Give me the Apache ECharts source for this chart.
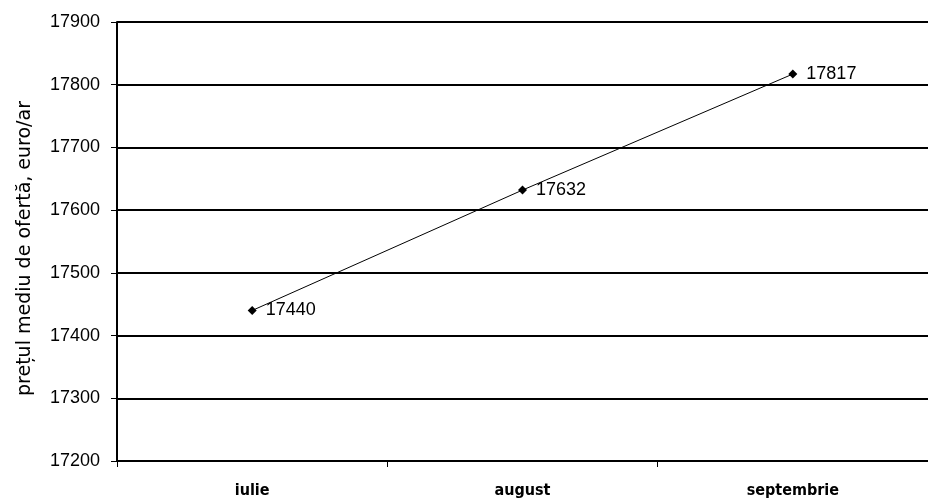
<!DOCTYPE html>
<html><head><meta charset="utf-8">
<script src="https://cdn.jsdelivr.net/npm/echarts@6/dist/echarts.min.js"></script>
<style>html,body{margin:0;padding:0;background:#fff}#c{width:928px;height:502px}</style>
</head><body><div id="c"></div>
<script>
const categories = ['iulie', 'august', 'septembrie'];
const values = [17440, 17632, 17817];
const yAxisName = 'prețul mediu de ofertă, euro/ar';

const chart = echarts.init(document.getElementById('c'));
chart.setOption({
  animation: false,
  backgroundColor: '#fff',
  grid: { left: 117, right: 0, top: 22, bottom: 41, containLabel: false },
  xAxis: {
    type: 'category', data: categories, boundaryGap: true,
    axisLine: { lineStyle: { color: '#000', width: 2 } },
    axisTick: { show: true, length: 6, lineStyle: { color: '#000', width: 1 } },
    axisLabel: { color: '#000', fontFamily: 'DejaVu Sans Condensed', fontWeight: 'bold', fontSize: 16, margin: 22 },
    splitLine: { show: false }
  },
  yAxis: {
    type: 'value', min: 17200, max: 17900, interval: 100,
    name: yAxisName, nameLocation: 'middle', nameGap: 82, nameRotate: 90,
    nameTextStyle: { color: '#000', fontFamily: 'DejaVu Sans', fontSize: 19, padding: [0, 14, 0, 0] },
    axisLine: { show: true, lineStyle: { color: '#000', width: 2 } },
    axisTick: { show: true, length: 6, lineStyle: { color: '#000', width: 1 } },
    axisLabel: { color: '#000', fontFamily: 'Liberation Sans', fontSize: 18, margin: 17,
                 formatter: v => String(v) },
    splitLine: { show: true, lineStyle: { color: '#000', width: 2 } }
  },
  series: [{
    type: 'line', data: values,
    symbol: 'diamond', symbolSize: 9,
    itemStyle: { color: '#000' },
    lineStyle: { color: '#000', width: 1 },
    label: { show: true, position: 'right', distance: 9, color: '#000', fontFamily: 'Liberation Sans', fontSize: 18 }
  }]
});
</script></body></html>
